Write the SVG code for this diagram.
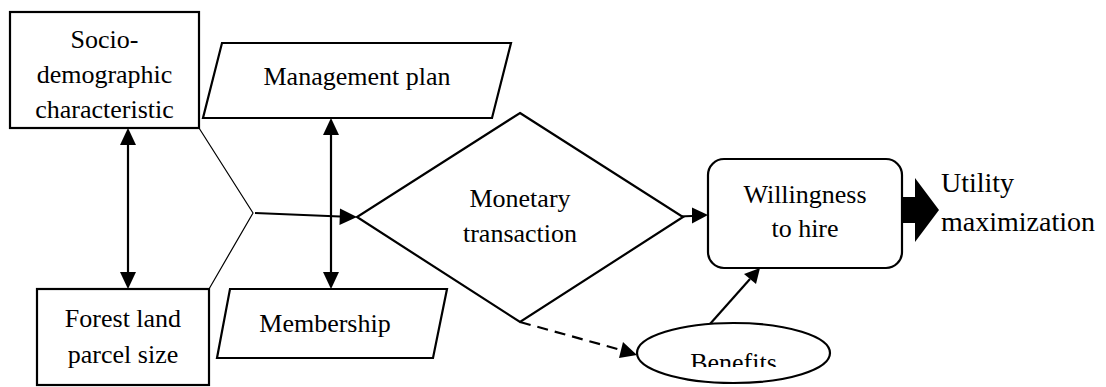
<svg xmlns="http://www.w3.org/2000/svg" width="1106" height="387" viewBox="0 0 1106 387">
<style>
  .box { fill: #fff; stroke: #000; stroke-width: 2.2; }
  .t { font-family: 'Liberation Serif', 'DejaVu Serif', serif; font-size: 26px; fill: #000; text-anchor: middle; }
  .big { font-family: 'Liberation Serif', 'DejaVu Serif', serif; font-size: 28px; fill: #000; }
  .c { fill: none; stroke: #000; stroke-width: 2.2; }
  .thin { fill: none; stroke: #000; stroke-width: 1.2; }
</style>
<defs>
  <clipPath id="benClip"><rect x="600" y="300" width="300" height="67"/></clipPath>
</defs>
<rect width="1106" height="387" fill="#fff"/>

<g id="connectors">
  <line class="c" x1="128" y1="145" x2="128" y2="272"/>
  <path d="M128,128 L120,145 L136,145 z"/>
  <path d="M128,289 L120,272 L136,272 z"/>
  <line class="c" x1="331" y1="135" x2="331" y2="272"/>
  <path d="M331,118 L323,135 L339,135 z"/>
  <path d="M331,289 L323,272 L339,272 z"/>
  <polyline class="thin" points="199,128 253,213 209,289"/>
  <line class="c" x1="255" y1="213" x2="340" y2="216.5"/>
  <path d="M357,217 L340,208.5 L339.5,225 z"/>
  <line class="c" x1="665" y1="217" x2="692" y2="216"/>
  <path d="M708,215 L692,207.5 L692,223.5 z"/>
  <line class="c" x1="710" y1="324" x2="750" y2="279"/>
  <path d="M760,268 L744,274 L756,284 z"/>
  <line class="c" x1="520" y1="322" x2="621" y2="350" stroke-dasharray="11,7"/>
  <path d="M637,355 L623,342 L619,358 z"/>
  <path d="M897,197 L915,197 L915,178 L939,210 L915,242 L915,223 L897,223 z"/>
</g>

<g id="socio">
  <rect class="box" x="10" y="12" width="189" height="116"/>
  <text class="t" x="104.5" y="48" font-family="Liberation Serif">Socio-</text>
  <text class="t" x="104.5" y="83" font-family="Liberation Serif">demographic</text>
  <text class="t" x="104.5" y="118" font-family="Liberation Serif">characteristic</text>
</g>

<g id="management">
  <polygon class="box" points="222,43 511,43 492,118 203,118"/>
  <text class="t" x="357" y="85">Management plan</text>
</g>

<g id="forest">
  <rect class="box" x="37" y="289" width="172" height="96"/>
  <text class="t" x="123" y="327">Forest land</text>
  <text class="t" x="123" y="363">parcel size</text>
</g>

<g id="membership">
  <polygon class="box" points="230,289 447,289 433,358 217,358"/>
  <text class="t" x="325" y="332">Membership</text>
</g>

<g id="monetary">
  <polygon class="box" points="520,113 683,217 520,322 357,217"/>
  <text class="t" x="520" y="207">Monetary</text>
  <text class="t" x="520" y="242">transaction</text>
</g>

<g id="willingness">
  <rect class="box" x="708" y="159" width="194" height="109" rx="16" ry="16"/>
  <text class="t" x="805" y="203">Willingness</text>
  <text class="t" x="805" y="237">to hire</text>
</g>

<g id="benefits">
  <ellipse class="box" cx="733.5" cy="353" rx="96.5" ry="30"/>
  <text class="t" x="733.5" y="371" clip-path="url(#benClip)">Benefits</text>
</g>

<g id="utility">
  <text class="big" x="941" y="192">Utility</text>
  <text class="big" x="941" y="231">maximization</text>
</g>
</svg>
